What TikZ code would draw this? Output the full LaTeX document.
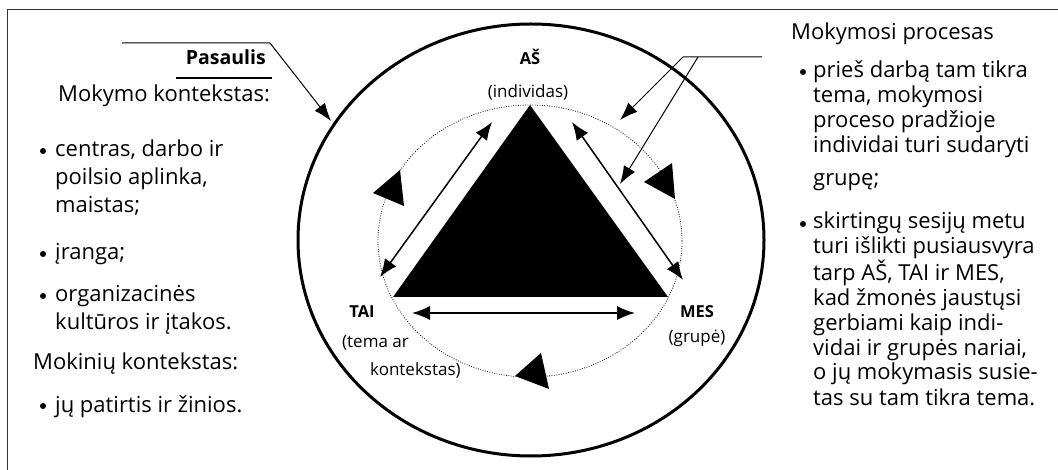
\documentclass[tikz,border=0pt]{standalone}
\usepackage{fontspec}
\setmainfont{Open Sans}
\usetikzlibrary{arrows.meta}

\tikzset{
  body/.style={font=\fontsize{22}{28}\selectfont, inner sep=0pt, anchor=base west, align=left},
  rbody/.style={body, font=\fontsize{22}{25}\selectfont},
  bul/.style={circle, fill, inner sep=0pt, minimum size=6pt, yshift=6pt},
  corner/.style={font=\fontsize{16.5}{18}\selectfont\bfseries, inner sep=0pt},
  sub/.style={font=\fontsize{17}{20}\selectfont, inner sep=0pt},
  pointer/.style={line width=1pt, -{Latex[length=18pt,width=13pt]}},
  twoway/.style={line width=1.5pt, {Latex[length=18pt,width=14pt]}-{Latex[length=18pt,width=14pt]}},
}

\begin{document}
\begin{tikzpicture}[x=1pt,y=-1pt]
  \useasboundingbox (0,0) rectangle (1058,470);
  % frame
  \draw[line width=1pt, black!80] (7,470) -- (7,10) -- (1058,10);

  % world and the dotted circle
  \draw[line width=3pt] (531,240) ellipse (233 and 216);
  \draw[line width=0.8pt, dash pattern=on 0.8pt off 1.6pt] (530,241) ellipse (152 and 136);

  % the triangle
  \coordinate (as) at (530,105);
  \coordinate (tai) at (393,297);
  \coordinate (mes) at (668,297);
  \fill (as) -- (tai) -- (mes) -- cycle;

  % heads on the dotted circle
  \fill (400,170) -- (373,193) -- (404,206) -- cycle;
  \fill (672,163) -- (644,182) -- (675,199) -- cycle;
  \fill (541,353) -- (515,376) -- (549,389) -- cycle;

  % arrows along the sides
  \coordinate (l1) at (380,277);
  \coordinate (l2) at (492,122);
  \coordinate (r1) at (572,122);
  \coordinate (r2) at (683,280);
  \coordinate (b1) at (412,313);
  \coordinate (b2) at (635,313);
  \draw[twoway] (l1) -- (l2);
  \draw[twoway] (r1) -- (r2);
  \draw[twoway] (b1) -- (b2);

  % corners
  \node[corner] (asl) at (530,57) {AŠ};
  \node[sub] (asd) at (528,92) {(individas)};
  \node[corner] (tail) at (362,312) {TAI};
  \node[sub, anchor=west] (taid1) at (342,343) {(tema ar};
  \node[sub, anchor=west] (taid2) at (370,370) {kontekstas)};
  \node[corner] (mesl) at (697,312) {MES};
  \node[sub] (mesd) at (697,338) {(grupė)};

  % left column
  \node[body, anchor=base east, font=\fontsize{19.5}{24}\selectfont\bfseries] (pasaulis) at (266,65) {Pasaulis};
  \draw[line width=1.6pt] (176,78) -- (272,78);
  \coordinate (pw) at (122,43);
  \coordinate (pk) at (270,43);
  \coordinate (pt) at (331,121);
  \draw[pointer] (pw) -- (pk) -- (pt);

  \node[body] (mokymo) at (58,102) {Mokymo kontekstas:};
  \node[bul] (d1) at (43,157) {};
  \node[body] (centras) at (55,213) {centras, darbo ir\\poilsio aplinka,\\maistas;};
  \node[bul] (d2) at (43,260) {};
  \node[body] (iranga) at (55,260) {įranga;};
  \node[bul] (d3) at (43,302) {};
  \node[body] (org) at (55,330) {organizacinės\\kultūros ir įtakos.};
  \node[body] (mokiniu) at (33,370) {Mokinių kontekstas:};
  \node[bul] (d4) at (43,412) {};
  \node[body] (patirtis) at (55,412) {jų patirtis ir žinios.};

  % right column
  \node[rbody] (procesas) at (791,40) {Mokymosi procesas};
  \coordinate (pe) at (762,57);
  \coordinate (pk1) at (683,57);
  \coordinate (pk2) at (698,57);
  \coordinate (t1) at (620,120);
  \coordinate (t2) at (620,184);
  \draw[pointer] (pe) -- (pk1) -- (t1);
  \draw[pointer] (pk2) -- (t2);

  \node[bul] (e1) at (803,78) {};
  \node[rbody] (pries) at (813,186) {prieš darbą tam tikra\\tema, mokymosi\\proceso pradžioje\\individai turi sudaryti\\[8pt]grupę;};
  \node[bul] (e2) at (803,230) {};
  \node[rbody] (sesiju) at (813,405) {skirtingų sesijų metu\\turi išlikti pusiausvyra\\tarp AŠ, TAI ir MES,\\kad žmonės jaustųsi\\gerbiami kaip indi-\\vidai ir grupės nariai,\\o jų mokymasis susie-\\tas su tam tikra tema.};
\end{tikzpicture}
\end{document}
